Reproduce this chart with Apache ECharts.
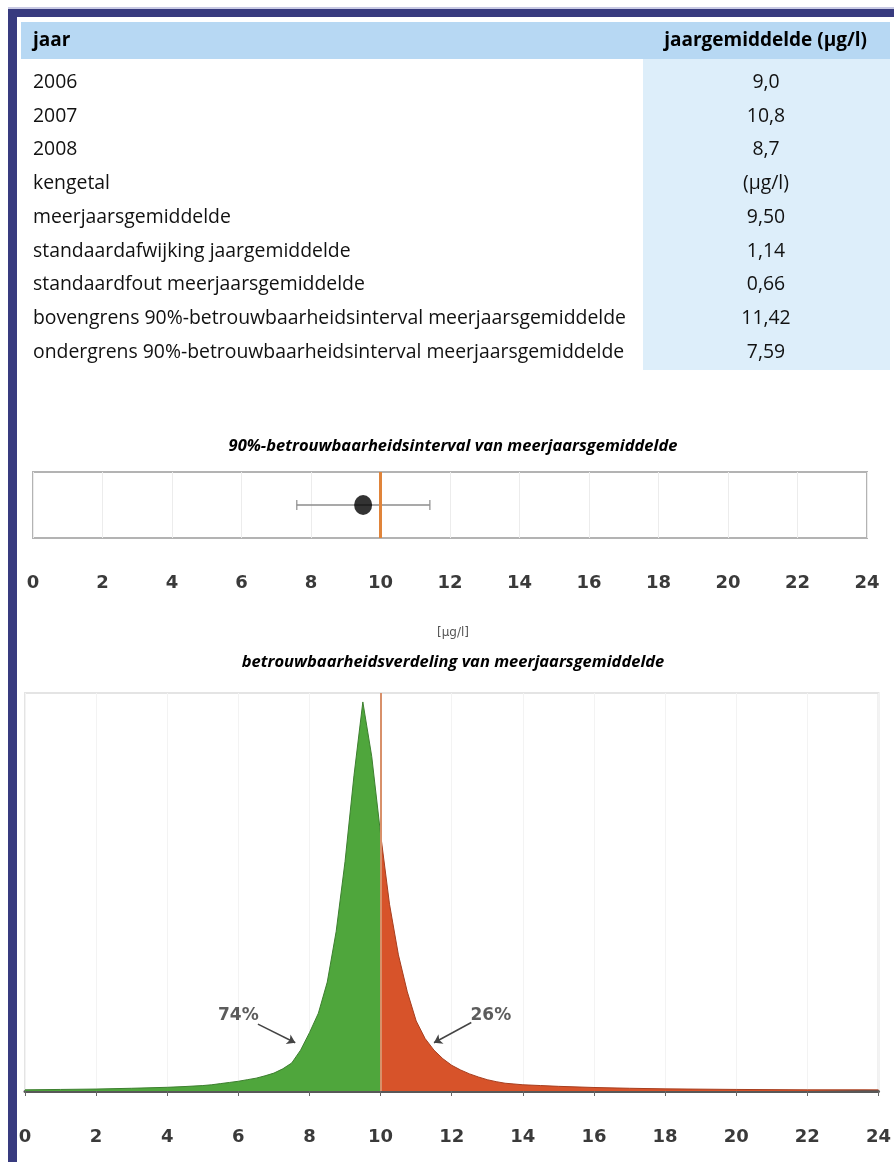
<!DOCTYPE html>
<html>
<head>
<meta charset="utf-8">
<script src="https://cdn.jsdelivr.net/npm/echarts@6/dist/echarts.min.js"></script>
<style>
  html, body { margin: 0; padding: 0; background: #ffffff; }
  #chart { width: 894px; height: 1162px; }
</style>
</head>
<body>
<div id="chart"></div>
<script>
// --- table data ---
const tableHeader = ['jaar', 'jaargemiddelde (µg/l)'];
const years = ['2006', '2007', '2008'];
const yearMeans = ['9,0', '10,8', '8,7'];
const statLabels = [
  'kengetal',
  'meerjaarsgemiddelde',
  'standaardafwijking jaargemiddelde',
  'standaardfout meerjaarsgemiddelde',
  'bovengrens 90%-betrouwbaarheidsinterval meerjaarsgemiddelde',
  'ondergrens 90%-betrouwbaarheidsinterval meerjaarsgemiddelde'
];
const statValues = ['(µg/l)', '9,50', '1,14', '0,66', '11,42', '7,59'];

// --- chart data ---
const meanValue = 9.50;
const ciLower = 7.59;
const ciUpper = 11.42;
const normValue = 10;
const intervalTitle = '90%-betrouwbaarheidsinterval van meerjaarsgemiddelde';
const distTitle = 'betrouwbaarheidsverdeling van meerjaarsgemiddelde';
const unitLabel = '[µg/l]';

// confidence distribution of the multi-year mean (relative density, peak = 100)
const distX = [0, 1, 2, 3, 4, 4.5,
  5, 5.25, 5.5, 5.75, 6, 6.25, 6.5, 6.75, 7, 7.25, 7.5, 7.75, 8, 8.25, 8.5, 8.75,
  9, 9.25, 9.5, 9.75, 10, 10.25, 10.5, 10.75, 11, 11.25, 11.5, 11.75, 12, 12.25, 12.5, 12.75,
  13, 13.25, 13.5, 13.75, 14, 14.5, 15, 16, 17, 18, 20, 22, 24];
const distY = [0.3, 0.4, 0.5, 0.7, 0.95, 1.15,
  1.4, 1.6, 1.9, 2.2, 2.5, 2.9, 3.3, 3.9, 4.6, 5.7, 7.2, 10.5, 15, 20, 28, 41,
  59, 81, 100, 86, 66, 48, 35, 25.5, 18, 13.5, 10.5, 8.3, 6.6, 5.4, 4.4, 3.6,
  2.9, 2.4, 2.0, 1.8, 1.6, 1.4, 1.2, 0.9, 0.7, 0.55, 0.4, 0.3, 0.3];
const shareLabels = ['74%', '26%'];
const shareLabelPos = [[6.0, 19.5], [13.1, 19.5]];
const shareArrows = [[[6.55, 17.2], [7.6, 12.4]], [[12.55, 17.6], [11.5, 12.4]]];

const belowNorm = [], aboveNorm = [];
distX.forEach((x, i) => {
  if (x <= normValue) belowNorm.push([x, distY[i]]);
  if (x >= normValue) aboveNorm.push([x, distY[i]]);
});

// --- table drawn as graphic elements ---
const tableFont = '19.4px "Open Sans", "Noto Sans", sans-serif';
const tableBold = 'bold 19px "Open Sans", "Noto Sans", sans-serif';
const rowLabels = years.concat(statLabels);
const rowValues = yearMeans.concat(statValues);
const rowTop = 82.5, rowStep = 33.7;

const graphics = [
  { type: 'rect', shape: { x: 8, y: 7, width: 886, height: 2 }, style: { fill: '#c9cae4' } },
  { type: 'rect', shape: { x: 8, y: 9, width: 886, height: 8 }, style: { fill: '#383b7f' } },
  { type: 'rect', shape: { x: 8, y: 9, width: 9, height: 1153 }, style: { fill: '#383b7f' } },
  { type: 'rect', shape: { x: 21, y: 22, width: 869, height: 37 }, style: { fill: '#b7d8f3' } },
  { type: 'rect', shape: { x: 643, y: 59, width: 247, height: 311 }, style: { fill: '#ddeefa' } },
  { type: 'text', x: 33, y: 41, style: { text: tableHeader[0], font: tableBold, fill: '#000', align: 'left', verticalAlign: 'middle' } },
  { type: 'text', x: 867, y: 41, style: { text: tableHeader[1], font: tableBold, fill: '#000', align: 'right', verticalAlign: 'middle' } }
];
rowLabels.forEach((label, i) => {
  const y = rowTop + i * rowStep;
  graphics.push({ type: 'text', x: 33, y: y, style: { text: label, font: tableFont, fill: '#111', align: 'left', verticalAlign: 'middle' } });
  graphics.push({ type: 'text', x: 766, y: y, style: { text: rowValues[i], font: tableFont, fill: '#111', align: 'center', verticalAlign: 'middle' } });
});
const titleFont = 'italic bold 16.5px "Open Sans", "Noto Sans", sans-serif';
graphics.push({ type: 'text', x: 453, y: 446, style: { text: intervalTitle, font: titleFont, fill: '#000', align: 'center', verticalAlign: 'middle' } });
graphics.push({ type: 'text', x: 453, y: 633, style: { text: unitLabel, font: '12px "DejaVu Sans", sans-serif', fill: '#555', align: 'center', verticalAlign: 'middle' } });
graphics.push({ type: 'text', x: 453, y: 662, style: { text: distTitle, font: titleFont, fill: '#000', align: 'center', verticalAlign: 'middle' } });

const axisLabelStyle = { fontFamily: '"DejaVu Sans", sans-serif', fontSize: 18, fontWeight: 'bold', color: '#3a3a3a' };

const chart = echarts.init(document.getElementById('chart'), null, { renderer: 'canvas' });
chart.setOption({
  animation: false,
  backgroundColor: '#ffffff',
  graphic: graphics,
  grid: [
    { left: 33, top: 472, width: 834, height: 66, show: true, borderColor: '#b3b3b3', borderWidth: 2, backgroundColor: 'transparent' },
    { left: 25, top: 693, width: 858, height: 398, show: true, borderColor: '#e4e4e4', borderWidth: 2, backgroundColor: 'transparent' }
  ],
  xAxis: [
    {
      gridIndex: 0, type: 'value', min: 0, max: 24, interval: 2,
      axisLine: { show: false }, axisTick: { show: false },
      splitLine: { show: true, lineStyle: { color: '#ececec', width: 1 } },
      axisLabel: Object.assign({ margin: 36 }, axisLabelStyle)
    },
    {
      gridIndex: 1, type: 'value', min: 0, max: 24, interval: 2,
      axisLine: { show: true, onZero: false, lineStyle: { color: '#585858', width: 3 } },
      axisTick: { show: true, length: 5, lineStyle: { color: '#666', width: 1 } },
      splitLine: { show: true, lineStyle: { color: '#f3f3f3', width: 1 } },
      axisLabel: Object.assign({ margin: 37 }, axisLabelStyle)
    }
  ],
  yAxis: [
    { gridIndex: 0, type: 'value', min: 0, max: 1, show: false },
    { gridIndex: 1, type: 'value', min: 0, max: 102.3, show: false }
  ],
  series: [
    // 90% interval whisker
    {
      type: 'line', xAxisIndex: 0, yAxisIndex: 0, symbol: 'none',
      data: [[ciLower, 0.5], [ciUpper, 0.5]],
      lineStyle: { color: '#8c8c8c', width: 1.5 },
      markLine: {
        silent: true, symbol: 'none', label: { show: false },
        lineStyle: { color: '#e0843a', width: 3, type: 'solid' },
        data: [{ xAxis: normValue }]
      },
      z: 3
    },
    {
      type: 'scatter', xAxisIndex: 0, yAxisIndex: 0, symbol: 'rect', symbolSize: [1.5, 10],
      data: [[ciLower, 0.5], [ciUpper, 0.5]],
      itemStyle: { color: '#8c8c8c' }, z: 3
    },
    {
      type: 'scatter', xAxisIndex: 0, yAxisIndex: 0, symbol: 'circle', symbolSize: [18, 20],
      data: [[meanValue, 0.5]],
      itemStyle: { color: '#000' }, z: 5
    },
    // confidence distribution, split at the norm value
    {
      type: 'line', xAxisIndex: 1, yAxisIndex: 1, symbol: 'none', smooth: false,
      data: belowNorm,
      lineStyle: { color: '#3d7f2f', width: 1 },
      areaStyle: { color: '#4fa63c', opacity: 1 },
      markLine: {
        silent: true, symbol: ['none', 'arrow'], symbolSize: 8, label: { show: false },
        lineStyle: { color: '#444', width: 1.5, type: 'solid' },
        data: shareArrows.map(a => [{ coord: a[0] }, { coord: a[1] }])
      },
      z: 2
    },
    {
      type: 'line', xAxisIndex: 1, yAxisIndex: 1, symbol: 'none', smooth: false,
      data: aboveNorm,
      lineStyle: { color: '#a63e1f', width: 1 },
      areaStyle: { color: '#d7532a', opacity: 1 },
      markLine: {
        silent: true, symbol: 'none', label: { show: false },
        lineStyle: { color: '#d8906a', width: 2, type: 'solid' },
        data: [{ xAxis: normValue }]
      },
      z: 2
    },
    {
      type: 'scatter', xAxisIndex: 1, yAxisIndex: 1, symbolSize: 0,
      data: shareLabels.map((s, i) => ({ name: s, value: shareLabelPos[i] })),
      label: {
        show: true, position: 'inside', formatter: '{b}',
        fontFamily: '"DejaVu Sans", sans-serif', fontSize: 17, fontWeight: 'bold', color: '#333'
      },
      z: 6
    }
  ]
});
</script>
</body>
</html>
